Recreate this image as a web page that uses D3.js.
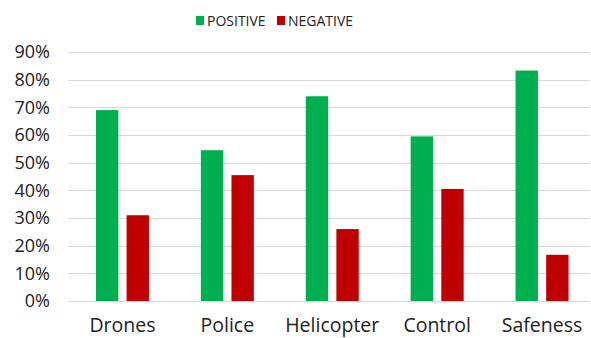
<!DOCTYPE html>
<html>
<head>
<meta charset="utf-8">
<script src="https://cdn.jsdelivr.net/npm/d3@7"></script>
<style>
  body { margin: 0; background: #fff; }
  text { font-family: "Open Sans", "DejaVu Sans", sans-serif; fill: #222; }
</style>
</head>
<body>
<div id="chart"></div>
<script>
// data
const categories = ["Drones", "Police", "Helicopter", "Control", "Safeness"];
const series = ["POSITIVE", "NEGATIVE"];
const positive = [0.69, 0.545, 0.74, 0.595, 0.833];
const negative = [0.31, 0.455, 0.26, 0.405, 0.167];
const yTicks = [0, 0.1, 0.2, 0.3, 0.4, 0.5, 0.6, 0.7, 0.8, 0.9];
const colors = ["#00b050", "#c00000"];

const W = 591, H = 338;

var svg = d3.select("#chart")
  .append("svg")
    .attr("width", W)
    .attr("height", H);

var x = d3.scaleBand()
  .domain(categories)
  .range([70, 594.5])
  .padding(0);

var xInner = d3.scaleBand()
  .domain(series)
  .range([-26.5, 26.5])
  .paddingInner(0.27)
  .paddingOuter(0);

var y = d3.scaleLinear()
  .domain([0, 0.9])
  .range([301, 52]);

// gridlines
svg.append("g")
  .selectAll("line")
  .data(yTicks)
  .enter()
  .append("line")
    .attr("x1", 68)
    .attr("x2", 590)
    .attr("y1", function(d) { return Math.round(y(d)) + 0.5; })
    .attr("y2", function(d) { return Math.round(y(d)) + 0.5; })
    .attr("stroke", "#d9d9d9")
    .attr("stroke-width", 1);

// y axis labels
var yAxis = svg.append("g")
  .attr("transform", "translate(50,0)")
  .call(d3.axisLeft(y).tickValues(yTicks).tickFormat(d3.format(".0%")).tickSize(0).tickPadding(0));
yAxis.select(".domain").remove();
yAxis.selectAll("text")
  .style("font-size", "18px")
  .style("font-family", "'Open Sans', sans-serif")
  .attr("fill", "#222");

// bars
var groups = svg.append("g")
  .selectAll("g")
  .data(categories)
  .enter()
  .append("g")
    .attr("transform", function(d) { return "translate(" + (x(d) + x.bandwidth() / 2) + ",0)"; });

groups.selectAll("rect")
  .data(function(d, i) {
    return [{s: series[0], v: positive[i]}, {s: series[1], v: negative[i]}];
  })
  .enter()
  .append("rect")
    .attr("x", function(d) { return xInner(d.s); })
    .attr("width", xInner.bandwidth())
    .attr("y", function(d) { return y(d.v); })
    .attr("height", function(d) { return y(0) - y(d.v); })
    .attr("fill", function(d, i) { return colors[i]; });

// x axis labels
var xAxis = svg.append("g")
  .attr("transform", "translate(0,318)")
  .call(d3.axisBottom(x).tickSize(0).tickPadding(0));
xAxis.select(".domain").remove();
xAxis.selectAll("text")
  .style("font-size", "19.5px")
  .style("font-family", "'Open Sans', sans-serif")
  .attr("fill", "#222");

// legend
var legend = svg.append("g");
var legendX = [196, 277];
series.forEach(function(s, i) {
  legend.append("rect")
    .attr("x", legendX[i])
    .attr("y", 16)
    .attr("width", 8)
    .attr("height", 9)
    .attr("fill", colors[i]);
  legend.append("text")
    .attr("x", legendX[i] + 11)
    .attr("y", 26)
    .style("font-size", "14px")
    .text(s);
});
</script>
</body>
</html>
